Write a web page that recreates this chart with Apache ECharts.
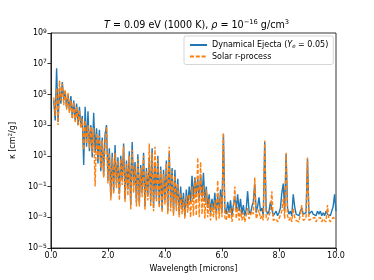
<!DOCTYPE html>
<html><head><meta charset="utf-8">
<script src="https://cdn.jsdelivr.net/npm/echarts@6/dist/echarts.min.js"></script>
<style>html,body{margin:0;padding:0;background:#fff}#c{width:374px;height:280px}</style>
</head><body><div id="c"></div>
<script>
// wavelength grid [microns]
const wavelength = [
0.10,0.15,0.20,0.25,0.30,0.35,0.40,0.45,0.50,0.55,0.60,0.65,0.70,0.75,0.80,0.85,0.90,0.95,1.00,1.05,
1.10,1.15,1.20,1.25,1.30,1.35,1.40,1.45,1.50,1.55,1.60,1.65,1.70,1.75,1.80,1.85,1.90,1.95,2.00,2.05,
2.10,2.15,2.20,2.25,2.30,2.35,2.40,2.45,2.50,2.55,2.60,2.65,2.70,2.75,2.80,2.85,2.90,2.95,3.00,3.05,
3.10,3.15,3.20,3.25,3.30,3.35,3.40,3.45,3.50,3.55,3.60,3.65,3.70,3.75,3.80,3.85,3.90,3.95,4.00,4.05,
4.10,4.15,4.20,4.25,4.30,4.35,4.40,4.45,4.50,4.55,4.60,4.65,4.70,4.75,4.80,4.85,4.90,4.95,5.00,5.05,
5.10,5.15,5.20,5.25,5.30,5.35,5.40,5.45,5.50,5.55,5.60,5.65,5.70,5.75,5.80,5.85,5.90,5.95,6.00,6.05,
6.10,6.15,6.20,6.25,6.30,6.35,6.40,6.45,6.50,6.55,6.60,6.65,6.70,6.75,6.80,6.85,6.90,6.95,7.00,7.05,
7.10,7.15,7.20,7.25,7.30,7.35,7.40,7.45,7.50,7.55,7.60,7.65,7.70,7.75,7.80,7.85,7.90,7.95,8.00,8.05,
8.10,8.15,8.20,8.25,8.30,8.35,8.40,8.45,8.50,8.55,8.60,8.65,8.70,8.75,8.80,8.85,8.90,8.95,9.00,9.05,
9.10,9.15,9.20,9.25,9.30,9.35,9.40,9.45,9.50,9.55,9.60,9.65,9.70,9.75,9.80,9.85,9.90,9.95,10.00];

// log10 of opacity kappa [cm^2/g]
const logKappaDynamical = [
4.6,3.3,6.7,3.2,5.4,4.4,5.8,4.6,5.2,4.1,5.0,3.9,4.9,3.5,4.6,3.3,4.4,3.0,4.2,2.9,
3.6,0.4,4.2,1.6,3.9,1.3,3.0,0.9,3.8,1.2,2.8,0.5,2.7,0.0,2.2,-0.3,2.4,3.0,-0.6,1.5,
-1.7,1.2,-1.3,1.7,-0.9,0.9,-1.5,1.0,-0.6,1.8,-1.8,0.7,-1.2,1.3,-2.2,1.9,-1.0,0.6,-2.0,1.1,
-2.1,0.4,-1.4,1.2,-2.3,0.2,-1.6,0.9,-2.0,1.5,-2.4,0.6,-1.8,1.0,-2.2,0.3,-2.5,0.1,-1.9,0.7,
-2.6,1.2,-2.2,0.2,-2.7,0.1,-2.3,-0.5,-2.8,-1.0,-2.5,-1.4,-2.9,-1.2,-2.4,-1.0,-2.0,-0.3,-1.8,-0.4,
-1.6,-0.5,-1.9,-0.2,-1.7,-0.1,-2.0,-1.0,-2.4,-1.5,-2.7,-1.8,-2.5,-1.4,-2.8,-1.6,-2.6,-1.2,-2.7,2.4,
-2.4,-2.8,-2.0,-2.7,-1.9,-2.9,-2.2,-1.6,-2.5,-1.5,-2.6,-1.8,-2.8,-2.2,-2.9,-2.5,-1.3,-2.6,-2.8,-2.3,
-2.0,-0.8,-2.7,-2.3,-1.7,-2.6,-2.4,-2.9,1.9,-2.5,-2.8,-2.6,-2.0,-1.9,-2.9,-2.8,-2.6,-2.9,-2.7,-2.4,
-1.4,-0.8,-2.6,1.1,-2.4,-2.8,-2.6,-2.9,-1.5,-2.3,-2.8,-2.7,-2.9,-2.6,-2.4,-2.8,-2.9,-2.7,0.8,-2.8,
-2.9,-2.6,-2.8,-2.7,-2.9,-2.6,-2.8,-2.6,-2.9,-2.7,-2.9,-2.6,-2.8,-2.7,-2.9,-2.8,-2.3,-1.5,-2.6];

const logKappaSolar = [
4.8,3.6,5.4,3.0,5.9,4.6,5.7,4.3,5.3,4.0,5.1,3.8,4.6,3.4,4.5,3.2,4.2,3.0,4.0,2.8,
3.4,1.4,3.3,1.8,3.0,1.5,2.9,1.2,2.8,-1.0,2.5,0.8,2.3,0.2,2.0,-0.4,1.8,2.9,-0.8,1.2,
-1.9,0.9,-1.5,1.2,-1.1,0.7,-1.9,0.8,-0.9,1.6,-2.0,0.5,-1.6,1.0,-2.5,1.4,-1.4,0.3,-2.3,0.8,
-2.3,0.2,-1.7,1.0,-2.5,0.0,-1.9,1.8,-2.3,1.2,-2.6,1.6,-2.0,0.8,-2.4,0.1,-2.7,-0.2,-2.2,0.5,
-2.8,1.6,-2.6,0.0,-2.9,-0.3,-2.6,-0.8,-3.0,-1.4,-2.8,-1.8,-3.1,-1.6,-2.7,-1.5,-3.0,-1.0,-2.9,-0.5,
-2.9,0.9,-3.0,0.6,-2.8,-0.9,-3.1,-1.2,-3.0,-1.8,-3.2,-2.1,-3.0,-1.9,-3.2,-0.6,-3.1,-1.6,-3.0,2.5,
-3.0,-3.2,-2.6,-3.1,-2.4,-3.3,-2.7,-1.0,-3.1,-2.3,-3.2,-2.5,-3.2,-2.7,-3.3,-2.9,-2.4,-3.1,-3.2,-2.6,
-2.8,-0.4,-3.1,-2.8,-2.5,-3.1,-2.9,-3.2,2.0,-3.0,-3.2,-3.1,-2.6,-1.3,-3.2,-3.3,-3.1,-3.3,-3.1,-3.0,
-2.6,-1.8,-3.1,1.2,-2.9,-3.2,-3.0,-3.3,-2.4,-3.0,-3.2,-3.1,-3.3,-2.8,-2.2,-3.2,-3.3,-3.1,0.9,-3.2,
-3.3,-3.1,-3.2,-3.0,-3.3,-3.1,-3.2,-3.0,-3.3,-3.1,-3.2,-3.3,-2.2,-3.1,-3.3,-3.2,-3.0,-3.1,-3.2];

const xTicks = [0, 2, 4, 6, 8, 10];
const yTicks = [1e-5, 1e-3, 1e-1, 1e1, 1e3, 1e5, 1e7, 1e9];
const seriesNames = ['Dynamical Ejecta (Ye = 0.05)', 'Solar r-process'];

const FONT = 'DejaVu Sans';
const sup = {fontSize: 6, fontFamily: FONT, color: '#000', verticalAlign: 'top', padding: [0, 0, 4, 0]};
const chart = echarts.init(document.getElementById('c'), null, {renderer: 'canvas'});

function toPairs(arr) { return arr.map((v, i) => [wavelength[i], Math.pow(10, v)]); }

chart.setOption({
  animation: false,
  title: {
    text: '{i|T} = 0.09 eV (1000 K), {i|ρ} = 10{s|−16} g/cm{s|3}',
    left: 99, top: 14,
    textStyle: {
      fontSize: 9.6, fontFamily: FONT, fontWeight: 'normal', color: '#000',
      rich: {
        i: {fontStyle: 'italic', fontSize: 9.6, fontFamily: FONT, color: '#000'},
        s: {fontSize: 6.7, fontFamily: FONT, color: '#000', verticalAlign: 'top', padding: [0, 0, 5, 0]}
      }
    }
  },
  legend: {
    left: 184, top: 36,
    orient: 'vertical',
    itemWidth: 17, itemHeight: 8, itemGap: 3,
    padding: [5, 5, 4, 5],
    borderColor: '#ccc', borderWidth: 0.8, borderRadius: 2,
    backgroundColor: 'rgba(255,255,255,0.8)',
    itemStyle: {color: 'rgba(0,0,0,0)', borderColor: 'rgba(0,0,0,0)', borderWidth: 0, opacity: 0},
    data: seriesNames,
    formatter: function (n) {
      return n === seriesNames[0] ? 'Dynamical Ejecta ({i|Y}{sb|e} = 0.05)' : n;
    },
    textStyle: {
      fontSize: 8, fontFamily: FONT, color: '#000', padding: [0, 0, 0, 0],
      rich: {
        i: {fontStyle: 'italic', fontSize: 8, fontFamily: FONT, color: '#000'},
        sb: {fontStyle: 'italic', fontSize: 5.6, fontFamily: FONT, color: '#000', verticalAlign: 'bottom', padding: [3, 0, 0, 0]}
      }
    }
  },
  grid: {left: 46, right: 38, top: 33, bottom: 32, show: true, borderColor: '#000', borderWidth: 0.8},
  xAxis: {
    type: 'value', min: 0, max: 10, interval: 2,
    name: 'Wavelength [microns]', nameLocation: 'middle', nameGap: 17,
    nameTextStyle: {fontSize: 8, fontFamily: FONT, color: '#000'},
    axisLine: {show: true, lineStyle: {color: '#000', width: 0.8}},
    axisTick: {show: true, inside: false, length: 3.5, lineStyle: {color: '#000', width: 0.8}},
    axisLabel: {fontSize: 8, fontFamily: FONT, color: '#000', margin: 4,
      formatter: v => v.toFixed(1)},
    splitLine: {show: false}
  },
  yAxis: {
    type: 'log', logBase: 10, min: 1e-5, max: 1e9,
    name: 'κ [cm{s|2}/g]', nameLocation: 'middle', nameGap: 30,
    nameTextStyle: {fontSize: 8, fontFamily: FONT, color: '#000',
      rich: {s: {fontSize: 5.6, fontFamily: FONT, color: '#000', verticalAlign: 'top', padding: [0, 0, 4, 0]}}},
    axisLine: {show: true, lineStyle: {color: '#000', width: 0.8}},
    axisTick: {show: true, inside: false, length: 3.5, lineStyle: {color: '#000', width: 0.8}, customValues: yTicks},
    axisLabel: {fontSize: 8, fontFamily: FONT, color: '#000', margin: 4, customValues: yTicks,
      formatter: function (v) {
        const e = Math.round(Math.log10(v));
        return '{b|10}{s|' + String(e).replace('-', '−') + '}';
      },
      rich: {b: {fontSize: 8, fontFamily: FONT, color: '#000'}, s: sup}
    },
    splitLine: {show: false}
  },
  series: [
    {name: seriesNames[0], type: 'line', data: toPairs(logKappaDynamical), showSymbol: false, symbol: 'none',
     color: '#1f77b4', lineStyle: {color: '#1f77b4', width: 1.4}, z: 2},
    {name: seriesNames[1], type: 'line', data: toPairs(logKappaSolar), showSymbol: false, symbol: 'none',
     color: '#ff7f0e', lineStyle: {color: '#ff7f0e', width: 1.4, type: [4, 1.8]}, z: 3}
  ]
});
</script></body></html>
